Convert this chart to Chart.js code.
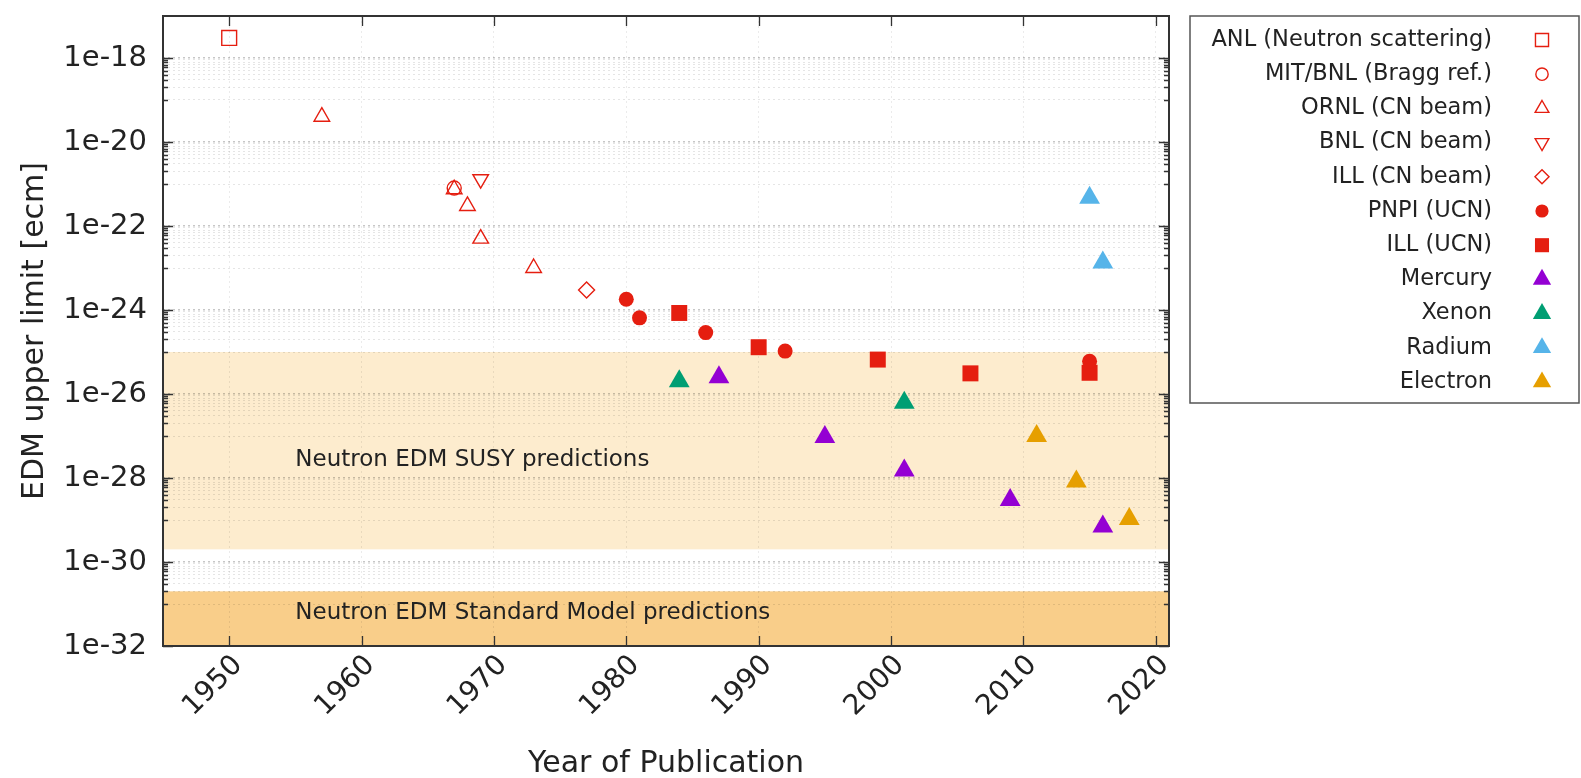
<!DOCTYPE html>
<html>
<head>
<meta charset="utf-8">
<title>Neutron EDM limits</title>
<script src="https://cdn.jsdelivr.net/npm/chart.js@4.4.1/dist/chart.umd.min.js"></script>
<style>
  html, body { margin: 0; padding: 0; background: #fff; }
  #edmChart { display: block; }
</style>
</head>
<body>
<canvas id="edmChart" width="1581" height="778"></canvas>
<script>
// year of publication and upper limit (e cm)
const anlYears = [1950];
const anlLimits = [3e-18];
const mitYears = [1967];
const mitLimits = [8e-22];
const ornlYears = [1957, 1967, 1968, 1969, 1973];
const ornlLimits = [4e-20, 7.5e-22, 3e-22, 5e-23, 1e-23];
const bnlYears = [1969];
const bnlLimits = [1.3e-21];
const illBeamYears = [1977];
const illBeamLimits = [3e-24];
const pnpiYears = [1980, 1981, 1986, 1992, 2015];
const pnpiLimits = [1.8e-24, 6.5e-25, 2.9e-25, 1.05e-25, 6e-26];
const illUcnYears = [1984, 1990, 1999, 2006, 2015];
const illUcnLimits = [8.5e-25, 1.3e-25, 6.6e-26, 3.1e-26, 3.2e-26];
const mercuryYears = [1987, 1995, 2001, 2009, 2016];
const mercuryLimits = [2.5e-26, 9.5e-28, 1.5e-28, 3e-29, 7e-30];
const xenonYears = [1984, 2001];
const xenonLimits = [2e-26, 6.2e-27];
const radiumYears = [2015, 2016];
const radiumLimits = [4.7e-22, 1.35e-23];
const electronYears = [2011, 2014, 2018];
const electronLimits = [1e-27, 8.2e-29, 1.05e-29];

// shaded prediction ranges [low, high]
const susyBand = [2e-30, 1e-25];
const smBand = [1e-32, 2e-31];
const bandLabels = ["Neutron EDM SUSY predictions", "Neutron EDM Standard Model predictions"];

const xTickYears = [1950, 1960, 1970, 1980, 1990, 2000, 2010, 2020];
const xTickLabels = ["1950", "1960", "1970", "1980", "1990", "2000", "2010", "2020"];
const yTickValues = [1e-32, 1e-30, 1e-28, 1e-26, 1e-24, 1e-22, 1e-20, 1e-18];
const yTickLabels = ["1e-32", "1e-30", "1e-28", "1e-26", "1e-24", "1e-22", "1e-20", "1e-18"];

const RED = "#e51e10";
const FONT = "DejaVu Sans";

function pts(years, limits) {
    return years.map((y, i) => ({ x: y, y: limits[i] }));
}

function openSeries(label, years, limits, style, radius, rotation) {
    return {
        label: label, data: pts(years, limits),
        pointStyle: style, pointRadius: radius, pointHoverRadius: radius,
        pointRotation: rotation || 0,
        borderColor: RED, backgroundColor: "rgba(255,255,255,0)", borderWidth: 1.4
    };
}

function fullSeries(label, years, limits, style, radius, color) {
    return {
        label: label, data: pts(years, limits),
        pointStyle: style, pointRadius: radius, pointHoverRadius: radius,
        pointRotation: 0,
        borderColor: color, backgroundColor: color, borderWidth: 0
    };
}

const datasets = [
    openSeries("ANL (Neutron scattering)", anlYears, anlLimits, "rect", 10.5),
    openSeries("MIT/BNL (Bragg ref.)", mitYears, mitLimits, "circle", 7),
    openSeries("ORNL (CN beam)", ornlYears, ornlLimits, "triangle", 9),
    openSeries("BNL (CN beam)", bnlYears, bnlLimits, "triangle", 9, 180),
    openSeries("ILL (CN beam)", illBeamYears, illBeamLimits, "rectRot", 8),
    fullSeries("PNPI (UCN)", pnpiYears, pnpiLimits, "circle", 7.5, RED),
    fullSeries("ILL (UCN)", illUcnYears, illUcnLimits, "rect", 11.3, RED),
    fullSeries("Mercury", mercuryYears, mercuryLimits, "triangle", 12, "#9400d3"),
    fullSeries("Xenon", xenonYears, xenonLimits, "triangle", 12, "#009e73"),
    fullSeries("Radium", radiumYears, radiumLimits, "triangle", 12, "#56b4e9"),
    fullSeries("Electron", electronYears, electronLimits, "triangle", 12, "#e69f00")
];

// prediction bands go under the grid
const bandsPlugin = {
    id: "bands",
    beforeDraw(chart) {
        const ctx = chart.ctx, a = chart.chartArea, y = chart.scales.y;
        ctx.save();
        ctx.fillStyle = "#fdecce";
        const s1 = y.getPixelForValue(susyBand[1]), s0 = y.getPixelForValue(susyBand[0]);
        ctx.fillRect(a.left, s1, a.right - a.left, s0 - s1);
        ctx.fillStyle = "#f9ce8a";
        const m1 = y.getPixelForValue(smBand[1]), m0 = y.getPixelForValue(smBand[0]);
        ctx.fillRect(a.left, m1, a.right - a.left, m0 - m1);
        ctx.restore();
    },
    afterDatasetsDraw(chart) {
        const ctx = chart.ctx, x = chart.scales.x, y = chart.scales.y;
        ctx.save();
        ctx.font = "23px '" + FONT + "'";
        ctx.fillStyle = "#222";
        ctx.textAlign = "left";
        ctx.textBaseline = "middle";
        ctx.fillText(bandLabels[0], x.getPixelForValue(1955), y.getPixelForValue(2.7e-28));
        ctx.fillText(bandLabels[1], x.getPixelForValue(1955), y.getPixelForValue(6e-32));
        ctx.restore();
    }
};

// gnuplot style frame with inward tics on all four sides
const framePlugin = {
    id: "frame",
    afterDraw(chart) {
        const ctx = chart.ctx, a = chart.chartArea;
        ctx.save();
        ctx.strokeStyle = "#333";
        ctx.lineWidth = 1.3;
        ctx.beginPath();
        chart.scales.y.ticks.forEach(t => {
            const p = Math.round(chart.scales.y.getPixelForValue(t.value)) + 0.5;
            const len = t.major ? 10 : 5;
            ctx.moveTo(a.left, p); ctx.lineTo(a.left + len, p);
            ctx.moveTo(a.right, p); ctx.lineTo(a.right - len, p);
        });
        chart.scales.x.ticks.forEach(t => {
            const p = Math.round(chart.scales.x.getPixelForValue(t.value)) + 0.5;
            ctx.moveTo(p, a.bottom); ctx.lineTo(p, a.bottom - 10);
            ctx.moveTo(p, a.top); ctx.lineTo(p, a.top + 10);
        });
        ctx.stroke();
        ctx.lineWidth = 2;
        ctx.strokeRect(a.left, a.top, a.right - a.left, a.bottom - a.top);
        ctx.restore();
    }
};

// legend box on the right: text right aligned, marker after it
const legendPlugin = {
    id: "sideLegend",
    afterDraw(chart) {
        const ctx = chart.ctx;
        ctx.save();
        ctx.strokeStyle = "#555";
        ctx.lineWidth = 1.5;
        ctx.strokeRect(1190, 16, 389, 387);
        ctx.font = "22.5px '" + FONT + "'";
        ctx.textAlign = "right";
        ctx.textBaseline = "middle";
        chart.data.datasets.forEach((ds, i) => {
            const yy = 40 + i * 34.2;
            ctx.fillStyle = "#222";
            ctx.fillText(ds.label, 1492, yy);
            ctx.fillStyle = ds.backgroundColor;
            ctx.strokeStyle = ds.borderColor;
            ctx.lineWidth = ds.borderWidth;
            Chart.helpers.drawPoint(ctx, {
                pointStyle: ds.pointStyle,
                rotation: ds.pointRotation,
                radius: ds.pointRadius * 0.88,
                borderWidth: ds.borderWidth
            }, 1542, yy);
        });
        ctx.restore();
    }
};

new Chart(document.getElementById("edmChart"), {
    type: "scatter",
    data: { datasets: datasets },
    plugins: [bandsPlugin, framePlugin, legendPlugin],
    options: {
        responsive: false,
        animation: false,
        events: [],
        layout: { padding: { top: 16, right: 412, left: 0, bottom: 0 } },
        plugins: { legend: { display: false }, tooltip: { enabled: false } },
        scales: {
            x: {
                type: "linear",
                min: 1945,
                max: 2021,
                afterFit(scale) {
                    scale.height = 132;
                    scale.paddingLeft = 0;
                    scale.paddingRight = 0;
                },
                afterBuildTicks(scale) {
                    scale.ticks = xTickYears.map(v => ({ value: v }));
                },
                ticks: {
                    autoSkip: false,
                    minRotation: 45,
                    maxRotation: 45,
                    padding: 3,
                    labelOffset: 9,
                    color: "#222",
                    font: { family: FONT, size: 28 },
                    callback: (v) => xTickLabels[xTickYears.indexOf(v)]
                },
                grid: { drawTicks: false, color: "rgba(0,0,0,0.08)" },
                border: { display: false, dash: [2, 3] },
                title: {
                    display: true,
                    text: "Year of Publication",
                    color: "#222",
                    font: { family: FONT, size: 30 },
                    padding: { top: 0, bottom: -4 }
                }
            },
            y: {
                type: "logarithmic",
                min: 1e-32,
                max: 1e-17,
                afterFit(scale) {
                    scale.width = 163;
                    scale.paddingTop = 0;
                    scale.paddingBottom = 0;
                },
                afterBuildTicks(scale) {
                    const ticks = [];
                    yTickValues.forEach(v => {
                        for (let k = 1; k <= 9; k++) {
                            const m = k * v / 10;
                            if (m >= 1e-32) ticks.push({ value: m, major: false });
                        }
                        ticks.push({ value: v, major: true });
                    });
                    ticks.sort((p, q) => p.value - q.value);
                    scale.ticks = ticks;
                },
                ticks: {
                    autoSkip: false,
                    padding: 16,
                    color: "#222",
                    font: { family: FONT, size: 29 },
                    callback: (v, i, ticks) => {
                        if (!ticks[i].major) return "";
                        const j = yTickValues.findIndex(t => Math.abs(Math.log10(t) - Math.log10(v)) < 1e-6);
                        return yTickLabels[j];
                    }
                },
                grid: {
                    drawTicks: false,
                    color: ctx => ctx.tick && ctx.tick.major ? "rgba(0,0,0,0.22)" : "rgba(0,0,0,0.1)",
                    lineWidth: ctx => ctx.tick && ctx.tick.major ? 1.6 : 1
                },
                border: { display: false, dash: [2, 3] },
                title: {
                    display: true,
                    text: "EDM upper limit [ecm]",
                    color: "#222",
                    font: { family: FONT, size: 30 },
                    padding: { top: 17, bottom: 0 }
                }
            }
        }
    }
});
</script>
</body>
</html>
